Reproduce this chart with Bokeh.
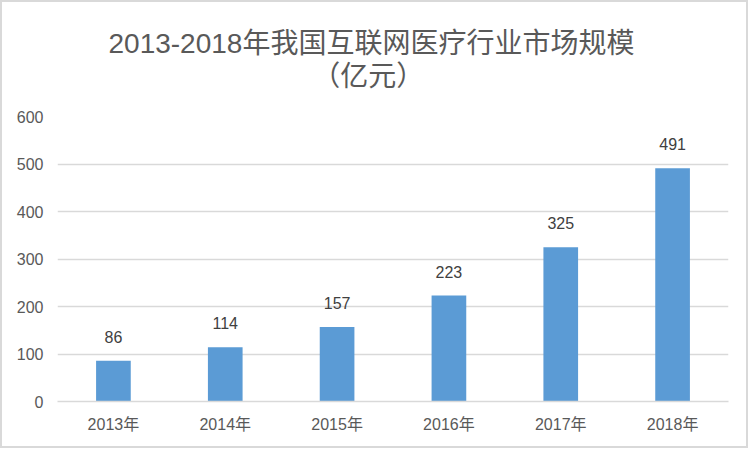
from bokeh.plotting import figure
from bokeh.models import ColumnDataSource, LabelSet, Title, FactorRange, Range1d, FixedTicker
from bokeh.core.properties import value
from bokeh.embed import file_html
from bokeh.resources import INLINE

years = ["2013年", "2014年", "2015年", "2016年", "2017年", "2018年"]
market_size = [86, 114, 157, 223, 325, 491]
y_ticks = [0, 100, 200, 300, 400, 500, 600]
title_line1 = "2013-2018年我国互联网医疗行业市场规模"
title_line2 = "（亿元）"

NUM_FONT = "Liberation Sans, Noto Sans CJK SC"

src = ColumnDataSource(dict(x=years, y=market_size, lbl=[str(v) for v in market_size]))

p = figure(x_range=FactorRange(*years, range_padding=0), y_range=Range1d(0, 600),
           width=748, height=448, output_backend="svg", toolbar_location=None,
           min_border_left=55, min_border_right=22, min_border_top=114, min_border_bottom=49)
p.styles = {"border": "2px solid #d9d9d9"}
p.outline_line_color = None
p.background_fill_color = "white"
p.border_fill_color = "white"

p.vbar(x="x", top="y", width=0.31, source=src, color="#5B9BD5", line_color=None)

p.add_layout(LabelSet(x="x", y="y", text="lbl", source=src, text_align="center",
                      text_baseline="bottom", y_offset=18, text_font_size="16px",
                      text_color="#404040", text_font=value(NUM_FONT)))

p.xgrid.grid_line_color = None
p.ygrid.grid_line_color = "#D9D9D9"
p.ygrid.grid_line_width = 1.5
p.yaxis.ticker = FixedTicker(ticks=y_ticks)
p.yaxis.axis_line_color = None
p.yaxis.major_tick_line_color = None
p.yaxis.minor_tick_line_color = None
p.yaxis.major_label_standoff = 8
p.yaxis.major_label_text_font_size = "16px"
p.yaxis.major_label_text_color = "#595959"
p.yaxis.major_label_text_font = NUM_FONT

p.xaxis.axis_line_color = "#D9D9D9"
p.xaxis.axis_line_width = 1.5
p.xaxis.major_tick_line_color = None
p.xaxis.minor_tick_line_color = None
p.xaxis.major_label_standoff = 8
p.xaxis.major_label_text_font_size = "16px"
p.xaxis.major_label_text_color = "#595959"
p.xaxis.major_label_text_font = NUM_FONT

pad = "\u3000" * 7 + "\u00a0" * 1
title = Title(text=title_line1 + "\n" + pad + title_line2, align="left", offset=51,
              text_font_size="28px", text_line_height=1.07,
              text_color="#595959", text_font=NUM_FONT, text_font_style="normal",
              standoff=48)
p.add_layout(title, "above")

open("out.html", "w").write(file_html(p, INLINE))
